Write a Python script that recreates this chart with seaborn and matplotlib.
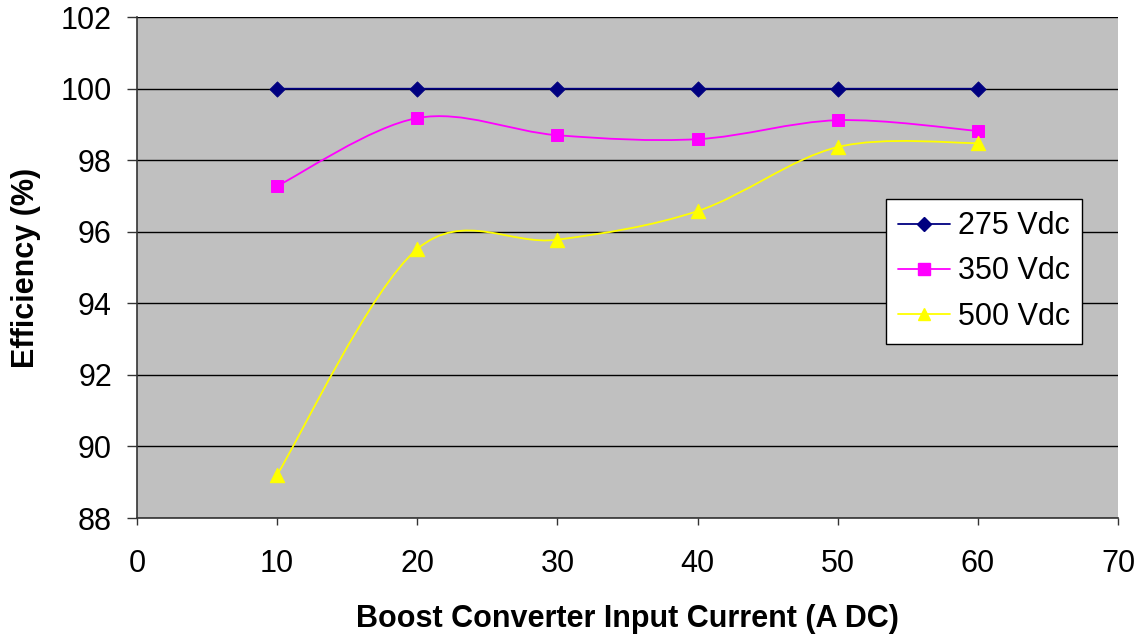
import matplotlib
matplotlib.use("Agg")
import matplotlib.pyplot as plt
import seaborn as sns
import numpy as np
import pandas as pd
from matplotlib.path import Path
from matplotlib.patches import PathPatch
from matplotlib.lines import Line2D

# Data
current = [10, 20, 30, 40, 50, 60]
eff_275 = [100, 100, 100, 100, 100, 100]
eff_350 = [97.28, 99.18, 98.70, 98.59, 99.12, 98.82]
eff_500 = [89.21, 95.52, 95.78, 96.58, 98.37, 98.48]
labels = ['275 Vdc', '350 Vdc', '500 Vdc']

sns.set_style('white')
plt.rcParams['font.family'] = ['Liberation Sans', 'DejaVu Sans']
plt.rcParams['text.color'] = 'black'
plt.rcParams['axes.labelcolor'] = 'black'
plt.rcParams['xtick.color'] = 'black'
plt.rcParams['ytick.color'] = 'black'

df = pd.DataFrame({'current': current * 3,
                   'eff': eff_275 + eff_350 + eff_500,
                   'series': [l for l in labels for _ in current]})

colors = {'275 Vdc': '#000080', '350 Vdc': '#FF00FF', '500 Vdc': '#FFFF00'}
markers = {'275 Vdc': 'D', '350 Vdc': 's', '500 Vdc': '^'}
msize = {'275 Vdc': 60, '350 Vdc': 75, '500 Vdc': 105}
leg_ms = {'275 Vdc': 7, '350 Vdc': 8, '500 Vdc': 9}
FS = 22


def smooth_path(xs, ys):
    # Excel-style smoothed line: cubic Bezier through the points
    pts = np.column_stack([xs, ys]).astype(float)
    n = len(pts)
    verts = [pts[0]]
    codes = [Path.MOVETO]
    for i in range(n - 1):
        p0 = pts[i - 1] if i > 0 else pts[i]
        p1 = pts[i]
        p2 = pts[i + 1]
        p3 = pts[i + 2] if i + 2 < n else pts[i + 1]
        c1 = p1 + (p2 - p0) / 6.0
        c2 = p2 - (p3 - p1) / 6.0
        verts += [c1, c2, p2]
        codes += [Path.CURVE4] * 3
    return Path(verts, codes)


fig = plt.figure(figsize=(11.41, 6.36), dpi=100)
ax = fig.add_axes([0.12, 0.1855, 0.86, 0.7875])
ax.set_facecolor('#C0C0C0')

for lab in labels:
    sub = df[df['series'] == lab]
    patch = PathPatch(smooth_path(sub['current'], sub['eff']), facecolor='none',
                      edgecolor=colors[lab], lw=1.3, zorder=3)
    ax.add_patch(patch)
    sns.scatterplot(data=sub, x='current', y='eff', marker=markers[lab],
                    color=colors[lab], s=msize[lab], edgecolor=colors[lab],
                    ax=ax, zorder=4, legend=False)

ax.set_xlim(0, 70)
ax.set_ylim(88, 102)
ax.set_xticks(range(0, 71, 10))
ax.set_yticks(range(88, 103, 2))
ax.yaxis.grid(True, color='black', lw=1)
ax.set_axisbelow(True)
for s in ['top', 'right']:
    ax.spines[s].set_visible(False)
for s in ['left', 'bottom']:
    ax.spines[s].set_color('#333333')
    ax.spines[s].set_linewidth(1.2)
ax.tick_params(axis='both', labelsize=FS, direction='out', width=1,
               color='#333333', left=True, bottom=True)
ax.tick_params(axis='y', length=7, pad=11)
ax.tick_params(axis='x', length=5, pad=17)
ax.set_xlabel('Boost Converter Input Current (A DC)', fontsize=FS,
              fontweight='bold', labelpad=18)
ax.set_ylabel('Efficiency (%)', fontsize=FS, fontweight='bold', labelpad=14)

handles = [Line2D([], [], color=colors[l], marker=markers[l], lw=1.3,
                  markersize=leg_ms[l], markeredgecolor=colors[l]) for l in labels]
leg = ax.legend(handles, labels, loc='upper left',
                bbox_to_anchor=(886 / 1141, 1 - 199 / 636),
                bbox_transform=fig.transFigure, fontsize=FS, frameon=True,
                fancybox=False, edgecolor='black', framealpha=1,
                handlelength=1.7, handletextpad=0.25, labelspacing=0.5,
                borderpad=0.4, borderaxespad=0)
leg.get_frame().set_linewidth(1)

fig.savefig('out.png', dpi=100)
